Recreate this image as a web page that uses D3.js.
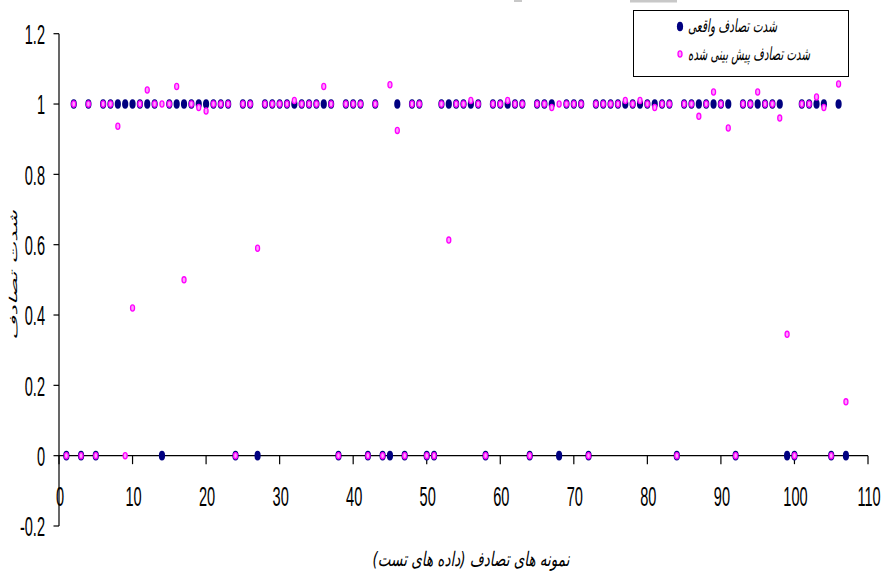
<!DOCTYPE html>
<html>
<head>
<meta charset="utf-8">
<script src="https://cdn.jsdelivr.net/npm/d3@7"></script>
<style>
  body { margin: 0; background: #fff; }
  svg { display: block; }
</style>
</head>
<body>
<svg id="chart" width="886" height="575"></svg>
<script>
// Test sample numbers
const sampleNo = [
  1, 2, 3, 4, 5, 6, 7, 8, 9, 10, 11, 12, 13, 14, 15, 16, 17, 18, 19, 20,
  21, 22, 23, 24, 25, 26, 27, 28, 29, 30, 31, 32, 33, 34, 35, 36, 37, 38, 39, 40,
  41, 42, 43, 44, 45, 46, 47, 48, 49, 50, 51, 52, 53, 54, 55, 56, 57, 58, 59, 60,
  61, 62, 63, 64, 65, 66, 67, 68, 69, 70, 71, 72, 73, 74, 75, 76, 77, 78, 79, 80,
  81, 82, 83, 84, 85, 86, 87, 88, 89, 90, 91, 92, 93, 94, 95, 96, 97, 98, 99, 100,
  101, 102, 103, 104, 105, 106, 107
];

// Observed accident severity (0 / 1)
const actualSeverity = [
  0, 1, 0, 1, 0, 1, 1, 1, 1, 1, 1, 1, 1, 0, 1, 1, 1, 1, 1, 1,
  1, 1, 1, 0, 1, 1, 0, 1, 1, 1, 1, 1, 1, 1, 1, 1, 1, 0, 1, 1,
  1, 0, 1, 0, 0, 1, 0, 1, 1, 0, 0, 1, 1, 1, 1, 1, 1, 0, 1, 1,
  1, 1, 1, 0, 1, 1, 1, 0, 1, 1, 1, 0, 1, 1, 1, 1, 1, 1, 1, 1,
  1, 1, 1, 0, 1, 1, 1, 1, 1, 1, 1, 0, 1, 1, 1, 1, 1, 1, 0, 0,
  1, 1, 1, 1, 0, 1, 0
];

// Model-predicted accident severity
const predictedSeverity = [
  0, 1, 0, 1, 0, 1, 1, 0.937, 0, 0.42, 1, 1.04, 1, 1, 1, 1.05, 0.5, 1, 0.99, 0.98,
  1, 1, 1, 0, 1, 1, 0.59, 1, 1, 1, 1, 1.01, 1, 1, 1, 1.05, 1, 0, 1, 1,
  1, 0, 1, 0, 1.055, 0.925, 0, 1, 1, 0, 0, 1, 0.613, 1, 1, 1.01, 1, 0, 1, 1,
  1.01, 1, 1, 0, 1, 1, 0.99, 1, 1, 1, 1, 0, 1, 1, 1, 1, 1.01, 1, 1.01, 1,
  0.99, 1, 1, 0, 1, 1, 0.965, 1, 1.034, 1, 0.932, 0, 1, 1, 1.034, 1, 1, 0.96, 0.345, 0,
  1, 1, 1.02, 0.99, 0, 1.057, 0.153
];

const xTicks = [0, 10, 20, 30, 40, 50, 60, 70, 80, 90, 100, 110];
const yTicks = [-0.2, 0, 0.2, 0.4, 0.6, 0.8, 1, 1.2];
const legendLabels = ["شدت تصادف واقعی", "شدت تصادف پیش بینی شده"];
const xTitle = "نمونه های تصادف (داده های تست)";
const yTitle = "شدت تصادف";

const svg = d3.select("#chart");
const NUM_FONT = "'Liberation Sans', Arial, sans-serif";
const FA_FONT = "'DejaVu Sans', sans-serif";
const SQUEEZE = 0.54;   // narrow, condensed lettering

const x = d3.scaleLinear().domain([0, 110]).range([59, 868]);
const y = d3.scaleLinear().domain([-0.2, 1.2]).range([526, 33.7]);

const ACT = { rx: 3.1, ry: 4.8, fill: "#000080" };
const PRED = { rx: 2.0, ry: 3.1, fill: "#ff9cff", stroke: "#ff00ff", sw: 1.3 };

// faint grey strips along the top edge
svg.append("rect").attr("x", 514).attr("y", 0).attr("width", 8).attr("height", 2).attr("fill", "#c8c8c8");
svg.append("rect").attr("x", 630).attr("y", 0).attr("width", 47).attr("height", 2.5).attr("fill", "#c8c8c8");

// ---- axes ----
const axes = svg.append("g").attr("stroke", "#000").attr("stroke-width", 1.2);
axes.append("line")
  .attr("x1", x(0)).attr("x2", x(0))
  .attr("y1", y(1.2)).attr("y2", y(-0.2));
axes.append("line")
  .attr("x1", x(0)).attr("x2", x(110))
  .attr("y1", y(0)).attr("y2", y(0));

yTicks.forEach(t => {
  axes.append("line")
    .attr("x1", x(0) - 5.5).attr("x2", x(0))
    .attr("y1", y(t)).attr("y2", y(t));
  svg.append("text")
    .attr("transform", `translate(45,${y(t) + 10.3}) scale(${SQUEEZE},1)`)
    .attr("text-anchor", "end")
    .attr("font-family", NUM_FONT)
    .attr("font-size", 27)
    .attr("fill", "#000")
    .text(String(+t.toFixed(1)));
});

xTicks.forEach(t => {
  axes.append("line")
    .attr("x1", x(t)).attr("x2", x(t))
    .attr("y1", y(0)).attr("y2", y(0) + 8.5);
  svg.append("text")
    .attr("transform", `translate(${x(t) + 1},506) scale(${SQUEEZE},1)`)
    .attr("text-anchor", "middle")
    .attr("font-family", NUM_FONT)
    .attr("font-size", 27)
    .attr("fill", "#000")
    .text(t);
});

// ---- markers ----
const rows = sampleNo.map((n, i) => ({ n, actual: actualSeverity[i], pred: predictedSeverity[i] }));

svg.append("g").selectAll("ellipse")
  .data(rows)
  .join("ellipse")
  .attr("cx", d => x(d.n))
  .attr("cy", d => y(d.actual))
  .attr("rx", ACT.rx)
  .attr("ry", ACT.ry)
  .attr("fill", ACT.fill);

svg.append("g").selectAll("ellipse")
  .data(rows)
  .join("ellipse")
  .attr("cx", d => x(d.n))
  .attr("cy", d => y(d.pred))
  .attr("rx", PRED.rx)
  .attr("ry", PRED.ry)
  .attr("fill", PRED.fill)
  .attr("stroke", PRED.stroke)
  .attr("stroke-width", PRED.sw);

// ---- Persian text, fitted to its measured length ----
function fitted(parent, str, size, width, place) {
  const t = parent.append("text")
    .attr("font-family", FA_FONT)
    .attr("font-style", "italic")
    .attr("font-size", size)
    .attr("direction", "rtl")
    .attr("fill", "#000")
    .text(str);
  const len = t.node().getComputedTextLength();
  const k = width / len;
  t.attr("text-anchor", "middle").attr("transform", place(k));
  return t;
}

// legend
const lg = svg.append("g");
lg.append("rect")
  .attr("x", 633.5).attr("y", 10.5).attr("width", 215).attr("height", 66)
  .attr("fill", "#fff").attr("stroke", "#000").attr("stroke-width", 1);
lg.append("ellipse").attr("cx", 680).attr("cy", 26.5)
  .attr("rx", ACT.rx).attr("ry", ACT.ry).attr("fill", ACT.fill);
lg.append("ellipse").attr("cx", 680).attr("cy", 54)
  .attr("rx", PRED.rx).attr("ry", PRED.ry)
  .attr("fill", PRED.fill).attr("stroke", PRED.stroke).attr("stroke-width", PRED.sw);
fitted(lg, legendLabels[0], 18, 89, k => `translate(${688 + 89 / 2},32) scale(${k},1)`);
fitted(lg, legendLabels[1], 18, 122, k => `translate(${688 + 122 / 2},59.5) scale(${k},1)`);

// axis titles
fitted(svg, xTitle, 20, 197, k => `translate(471,566) scale(${k},1)`);
fitted(svg, yTitle, 18, 130, k => `translate(17,275) rotate(-90) scale(${k},0.6)`);
</script>
</body>
</html>
